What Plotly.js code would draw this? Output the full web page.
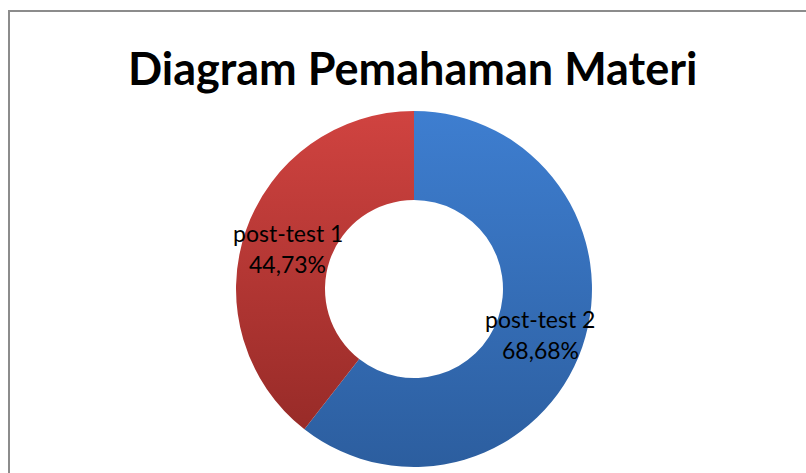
<!DOCTYPE html>
<html>
<head>
<meta charset="utf-8">
<script src="https://cdn.plot.ly/plotly-3.0.1.min.js"></script>
<style>
html,body{margin:0;padding:0;background:#fff;overflow:hidden;}
#wrap{position:relative;width:806px;height:473px;}
#chart{width:806px;height:473px;}
#frame{position:absolute;left:8px;top:10px;width:900px;height:600px;border:2px solid #8c8c8c;pointer-events:none;}
</style>
</head>
<body>
<div id="wrap"><div id="chart"></div><div id="frame"></div></div>
<script>
const categories = ["post-test 2", "post-test 1"];
const values = [68.68, 44.73];
const valueLabels = ["68,68%", "44,73%"];
const chartTitle = "Diagram Pemahaman Materi";
const sliceColors = ["#3670b9", "#b83735"];

const W = 806, H = 473;
const dom = {x: [0.2928, 0.7345], y: [0.0127, 0.7653]};
const holeFrac = 0.5;

const trace = {
  type: "pie",
  labels: categories,
  values: values,
  textinfo: "none",
  hole: holeFrac,
  sort: false,
  direction: "clockwise",
  rotation: 0,
  marker: {colors: sliceColors, line: {width: 0}},
  domain: dom,
  showlegend: false,
  hoverinfo: "none"
};

// label positions derived from the slice angles (mid-angle, middle of the ring)
const cxPx = (dom.x[0] + dom.x[1]) / 2 * W;
const cyPx = (1 - (dom.y[0] + dom.y[1]) / 2) * H;
const rOut = Math.min((dom.x[1] - dom.x[0]) * W, (dom.y[1] - dom.y[0]) * H) / 2;
const rMid = rOut * (1 + holeFrac) / 2;
const total = values.reduce((a, b) => a + b, 0);
const annotations = [];
let cum = 0;
const labelFont = {family: "Lato, 'Open Sans', sans-serif", size: 23, color: "#000"};
values.forEach(function(v, i){
  const mid = (cum + v / 2) / total * 2 * Math.PI;
  cum += v;
  const px = cxPx + rMid * Math.sin(mid);
  const py = cyPx - rMid * Math.cos(mid) + 2;
  annotations.push({x: px / W, y: 1 - py / H, xref: "paper", yref: "paper", text: categories[i],
    showarrow: false, font: labelFont, xanchor: "center", yanchor: "middle", yshift: 15});
  annotations.push({x: px / W, y: 1 - py / H, xref: "paper", yref: "paper", text: valueLabels[i],
    showarrow: false, font: labelFont, xanchor: "center", yanchor: "middle", yshift: -16});
});

const layout = {
  width: W, height: H,
  margin: {l: 0, r: 0, t: 0, b: 0},
  paper_bgcolor: "#fff",
  title: {
    text: "<b>" + chartTitle + "</b>",
    font: {family: "Lato, 'Open Sans', sans-serif", size: 45, color: "#000"},
    x: 0.512, xanchor: "center",
    y: 0.853, yanchor: "middle"
  },
  annotations: annotations,
  showlegend: false
};

Plotly.newPlot("chart", [trace], layout, {displayModeBar: false, staticPlot: true}).then(function(gd){
  const svg = gd.querySelector(".main-svg");
  const ns = "http://www.w3.org/2000/svg";
  let defs = svg.querySelector("defs");
  if (!defs) { defs = document.createElementNS(ns, "defs"); svg.insertBefore(defs, svg.firstChild); }
  const grads = [["gBlue", "#3e7ed0", "#2c5e9f"], ["gRed", "#d04340", "#982b28"]];
  grads.forEach(function(g){
    const lg = document.createElementNS(ns, "linearGradient");
    lg.setAttribute("id", g[0]);
    lg.setAttribute("x1", "0"); lg.setAttribute("y1", "0");
    lg.setAttribute("x2", "0"); lg.setAttribute("y2", "1");
    const s1 = document.createElementNS(ns, "stop"); s1.setAttribute("offset", "0"); s1.setAttribute("stop-color", g[1]);
    const s2 = document.createElementNS(ns, "stop"); s2.setAttribute("offset", "1"); s2.setAttribute("stop-color", g[2]);
    lg.appendChild(s1); lg.appendChild(s2); defs.appendChild(lg);
  });
  const paths = gd.querySelectorAll(".slice path.surface");
  paths.forEach(function(p, i){ p.style.fill = "url(#" + grads[i][0] + ")"; });
});
</script>
</body>
</html>
